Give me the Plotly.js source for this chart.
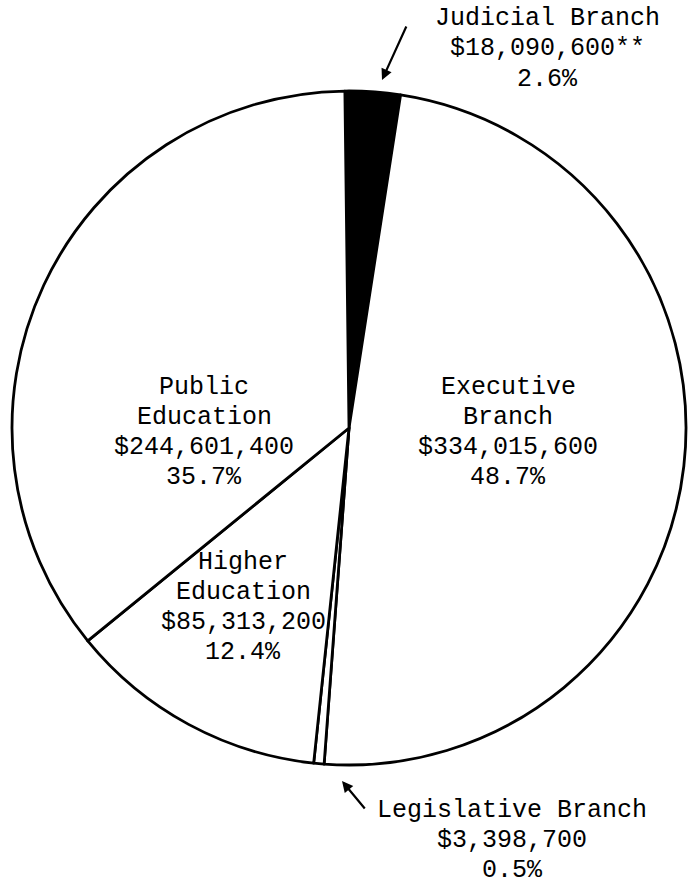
<!DOCTYPE html>
<html>
<head>
<meta charset="utf-8">
<script src="https://cdn.plot.ly/plotly-3.0.1.min.js"></script>
<style>
html,body{margin:0;padding:0;background:#fff;}
#chart{width:688px;height:885px;}
</style>
</head>
<body>
<div id="chart"></div>
<script>
// ---- data ----
const categories = ['Judicial Branch', 'Executive Branch', 'Legislative Branch', 'Higher Education', 'Public Education'];
const values = [18090600, 334015600, 3398700, 85313200, 244601400];
const valueLabels = ['$18,090,600**', '$334,015,600', '$3,398,700', '$85,313,200', '$244,601,400'];
const percentLabels = ['2.6%', '48.7%', '0.5%', '12.4%', '35.7%'];
const nameLines = [['Judicial Branch'], ['Executive', 'Branch'], ['Legislative Branch'], ['Higher', 'Education'], ['Public', 'Education']];
const sliceColors = ['#000000', '#ffffff', '#ffffff', '#ffffff', '#ffffff'];

// ---- layout helpers ----
const W = 688, H = 885;
const labelPos = [
  {x: 547, y: 19},
  {x: 508, y: 387},
  {x: 512, y: 810},
  {x: 243, y: 562},
  {x: 204, y: 387}
];
const lineGap = 30;
const font = {family: 'Liberation Mono, Courier New, monospace', size: 25, color: '#000'};

const annotations = [];
categories.forEach((c, i) => {
  const lines = nameLines[i].concat([valueLabels[i], percentLabels[i]]);
  lines.forEach((t, k) => {
    annotations.push({
      xref: 'paper', yref: 'paper',
      x: labelPos[i].x / W,
      y: 1 - (labelPos[i].y + k * lineGap) / H,
      xanchor: 'center', yanchor: 'middle',
      text: t, showarrow: false, font: font
    });
  });
});
// arrows pointing at the two small slices
const arrows = [
  {hx: 382, hy: 80, tx: 407, ty: 25},
  {hx: 342, hy: 781, tx: 366, ty: 810}
];
arrows.forEach(a => {
  annotations.push({
    xref: 'paper', yref: 'paper',
    x: a.hx / W, y: 1 - a.hy / H,
    ax: a.tx - a.hx, ay: a.ty - a.hy,
    text: '', showarrow: true,
    arrowhead: 2, arrowsize: 1, arrowwidth: 2.2, arrowcolor: '#000',
    standoff: 0, startstandoff: 0
  });
});

const cx = 349, cy = 428, r = 337;
const trace = {
  type: 'pie',
  labels: categories,
  values: values,
  sort: false,
  direction: 'clockwise',
  rotation: -0.7,
  textinfo: 'none',
  hoverinfo: 'label+value+percent',
  marker: {colors: sliceColors, line: {color: '#000', width: 2.8}},
  domain: {x: [(cx - r) / W, (cx + r) / W], y: [1 - (cy + r) / H, 1 - (cy - r) / H]},
  showlegend: false
};

Plotly.newPlot('chart', [trace], {
  width: W, height: H,
  margin: {l: 0, r: 0, t: 0, b: 0},
  paper_bgcolor: '#fff',
  showlegend: false,
  annotations: annotations
}, {displayModeBar: false, staticPlot: true});
</script>
</body>
</html>
